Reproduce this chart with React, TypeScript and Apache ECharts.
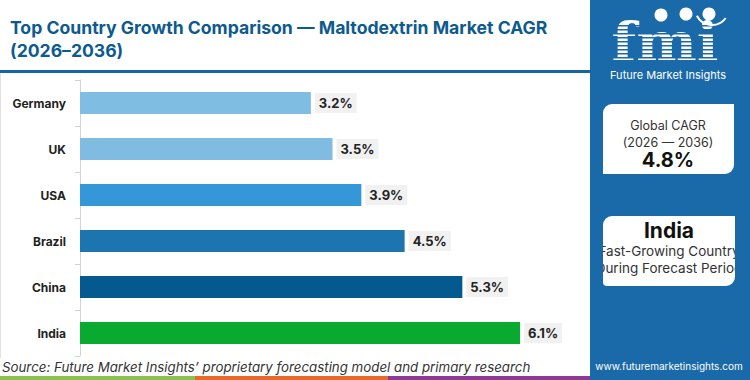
import React, { useEffect, useRef } from "react";
import * as echarts from "echarts";

const categories = ["Germany", "UK", "USA", "Brazil", "China", "India"];
const values = [3.2, 3.5, 3.9, 4.5, 5.3, 6.1];
const barColors = ["#80bde3", "#80bce2", "#3498d8", "#1d75b0", "#045a8e", "#08aa30"];
const titleLines = ["Top Country Growth Comparison — Maltodextrin Market CAGR", "(2026–2036)"];
const sourceText = "Source: Future Market Insights’ proprietary forecasting model and primary research";
const globalCagrLines = ["Global CAGR", "(2026 — 2036)", "4.8%"];
const leaderLines = ["India", "Fast-Growing Country", "During Forecast Period"];

const FONT = "Inter, 'Noto Sans', sans-serif";
const PANEL = "#1a69a8";

export default function App() {
  const ref = useRef<HTMLDivElement>(null);
  useEffect(() => {
    if (!ref.current) return;
    const chart = echarts.init(ref.current, undefined, { renderer: "svg" });

    const stripes: any[] = [];
    for (let y = 25; y <= 57; y += 4) {
      stripes.push({ type: "rect", shape: { x: 606, y, width: 120, height: 1.4 }, style: { fill: PANEL }, z: 12 });
    }

    const txt = (text: string, x: number, y: number, o: any = {}) => ({
      type: "text",
      x,
      y,
      z: o.z ?? 20,
      scaleX: o.scaleX ?? 1,
      style: {
        text,
        fill: o.fill ?? "#222",
        fontSize: o.fontSize ?? 12,
        fontWeight: o.fontWeight ?? "normal",
        fontStyle: o.fontStyle ?? "normal",
        fontFamily: o.fontFamily ?? FONT,
        textAlign: o.align ?? "left",
        align: o.align ?? "left",
        textVerticalAlign: o.valign ?? "middle",
        verticalAlign: o.valign ?? "middle",
      },
    });

    chart.setOption({
      animation: false,
      backgroundColor: "#ffffff",
      grid: { left: 80, top: 80, width: 505, height: 276, containLabel: false },
      xAxis: { type: "value", min: 0, max: 7, show: false },
      yAxis: {
        type: "category",
        data: categories,
        inverse: true,
        axisLine: { show: true, lineStyle: { color: "#d3d3d3" } },
        axisTick: { show: true, length: 5, lineStyle: { color: "#d3d3d3" } },
        axisLabel: { fontWeight: "bold", fontSize: 12, color: "#222", margin: 14, fontFamily: FONT },
        splitLine: { show: false },
      },
      series: [
        {
          type: "bar",
          barWidth: 22,
          data: values.map((v, i) => ({ value: v, itemStyle: { color: barColors[i] } })),
          label: {
            show: true,
            position: "right",
            distance: 4,
            formatter: (p: any) => Number(p.value).toFixed(1) + "%",
            backgroundColor: "#f1f1f1",
            padding: [4, 4, 3, 4],
            fontWeight: "bold",
            fontSize: 13,
            color: "#222",
            fontFamily: FONT,
          },
        },
      ],
      graphic: [
        // right panel
        { type: "rect", shape: { x: 590, y: 0, width: 160, height: 380 }, style: { fill: PANEL }, z: 10 },
        // title underline
        { type: "rect", shape: { x: 0, y: 70, width: 590, height: 3 }, style: { fill: "#1565a5" }, z: 10 },
        // left border
        { type: "rect", shape: { x: 0, y: 73, width: 1, height: 285 }, style: { fill: "#e2e2e2" }, z: 10 },
        txt(titleLines[0], 10, 27, { fill: "#0d5a8f", fontSize: 17.6, fontWeight: "bold" }),
        txt(titleLines[1], 10, 50, { fill: "#0d5a8f", fontSize: 17.6, fontWeight: "bold" }),
        // source
        txt(sourceText, 2, 367, { fill: "#333", fontSize: 13.3, fontStyle: "italic" }),
        // bottom stripes
        { type: "rect", shape: { x: 0, y: 376, width: 195, height: 4 }, style: { fill: "#8cc152" }, z: 10 },
        { type: "rect", shape: { x: 195, y: 376, width: 193, height: 4 }, style: { fill: "#e8692b" }, z: 10 },
        { type: "rect", shape: { x: 388, y: 376, width: 202, height: 4 }, style: { fill: "#8e3a94" }, z: 10 },
        // logo
        {
          type: "text",
          x: 665,
          y: 68,
          z: 11,
          scaleX: 1.08,
          style: {
            text: "fmi",
            fill: "#ffffff",
            fontSize: 53,
            fontWeight: "bold",
            fontFamily: "'DejaVu Serif', serif",
            textAlign: "center",
            align: "center",
            textVerticalAlign: "bottom",
            verticalAlign: "bottom",
          },
        },
        ...stripes,
        { type: "circle", shape: { cx: 661, cy: 15, r: 6.5 }, style: { fill: "#ffffff" }, z: 13 },
        { type: "circle", shape: { cx: 686, cy: 14, r: 6.5 }, style: { fill: "#ffffff" }, z: 13 },
        { type: "circle", shape: { cx: 709, cy: 14, r: 6.5 }, style: { fill: "#ffffff" }, z: 13 },
        { type: "arc", shape: { cx: 712, cy: 8, r: 17, startAngle: Math.PI * 0.2, endAngle: Math.PI * 0.85 }, style: { stroke: "#ffffff", lineWidth: 2, fill: "none" }, z: 13 },
        txt("Future Market Insights", 668, 75, { fill: "#ffffff", fontSize: 11, align: "center", z: 13 }),
        // card 1
        { type: "rect", shape: { x: 603, y: 104, width: 131, height: 70, r: [9, 0, 9, 0] }, style: { fill: "#ffffff" }, z: 14 },
        txt(globalCagrLines[0], 668, 125, { fill: "#333", fontSize: 12.5, align: "center", z: 15 }),
        txt(globalCagrLines[1], 668, 142, { fill: "#333", fontSize: 12.5, align: "center", z: 15 }),
        txt(globalCagrLines[2], 668, 160, { fill: "#111", fontSize: 20, fontWeight: "bold", align: "center", z: 15 }),
        // card 2
        { type: "rect", shape: { x: 603, y: 216, width: 132, height: 70, r: [9, 0, 9, 4] }, style: { fill: "#ffffff" }, z: 14 },
        txt(leaderLines[0], 669, 230, { fill: "#111", fontSize: 21, fontWeight: "bold", align: "center", z: 15 }),
        txt(leaderLines[1], 669, 251, { fill: "#333", fontSize: 13.5, align: "center", z: 15 }),
        txt(leaderLines[2], 669, 268, { fill: "#333", fontSize: 13.5, align: "center", z: 15 }),
        { type: "rect", shape: { x: 590, y: 216, width: 13, height: 70 }, style: { fill: PANEL }, z: 16 },
        { type: "rect", shape: { x: 735, y: 216, width: 15, height: 70 }, style: { fill: PANEL }, z: 16 },
        txt("www.futuremarketinsights.com", 669, 366, { fill: "#ffffff", fontSize: 10, align: "center", z: 15 }),
      ],
    });
    return () => chart.dispose();
  }, []);
  return <div ref={ref} style={{ position: "fixed", left: 0, top: 0, width: 750, height: 380 }} />;
}
